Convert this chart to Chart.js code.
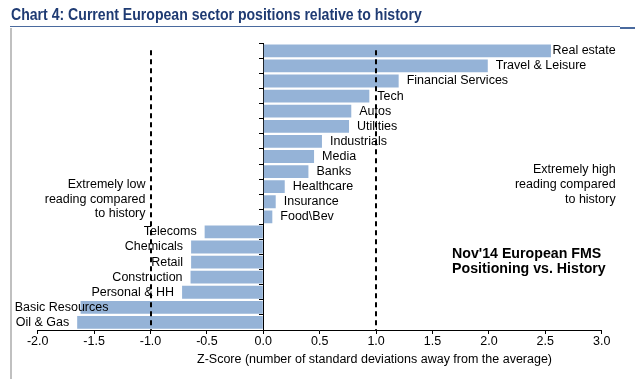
<!DOCTYPE html>
<html>
<head>
<meta charset="utf-8">
<script src="https://cdn.jsdelivr.net/npm/chart.js@4"></script>
<style>
  html, body { margin: 0; padding: 0; background: #fff; }
  #wrap { position: relative; width: 635px; height: 379px; overflow: hidden; }
  #title {
    position: absolute; left: 11px; top: 5px;
    font-family: "Liberation Sans Narrow", "Liberation Sans", Arial, sans-serif;
    font-weight: bold; font-size: 16px; color: #1F3B73; white-space: nowrap;
    line-height: 20px; transform: scaleX(0.88); transform-origin: 0 0;
  }
  #rule { position: absolute; left: 10px; top: 26px; width: 610px; height: 1px; background: #4A6A9E; }
  #rule2 { position: absolute; left: 620px; top: 27px; width: 15px; height: 2px; background: #4A6A9E; }
  #frame { position: absolute; left: 10px; top: 28px; width: 2px; height: 351px; background: #C0C0C0; }
  canvas { position: absolute; left: 0; top: 0; }
</style>
</head>
<body>
<div id="wrap">
  <canvas id="c" width="635" height="379"></canvas>
  <div id="title">Chart 4: Current European sector positions relative to history</div>
  <div id="rule"></div>
  <div id="rule2"></div>
  <div id="frame"></div>
</div>
<script>
const categories = ['Real estate','Travel & Leisure','Financial Services','Tech','Autos','Utilities','Industrials','Media','Banks','Healthcare','Insurance','Food\\Bev','Telecoms','Chemicals','Retail','Construction','Personal & HH','Basic Resources','Oil & Gas'];
const zScores = [2.55, 1.99, 1.20, 0.94, 0.78, 0.76, 0.52, 0.45, 0.40, 0.19, 0.11, 0.08, -0.52, -0.64, -0.64, -0.645, -0.72, -1.62, -1.65];
const xTicks = [-2.0, -1.5, -1.0, -0.5, 0.0, 0.5, 1.0, 1.5, 2.0, 2.5, 3.0];
const extremeLines = [-1, 1];
const xTitle = 'Z-Score (number of standard deviations away from the average)';
const highNote = ['Extremely high', 'reading compared', 'to history'];
const lowNote = ['Extremely low', 'reading compared', 'to history'];
const boxNote = ["Nov'14 European FMS", 'Positioning vs. History'];

const FONT = '"Liberation Sans", Arial, sans-serif';

const decor = {
  id: 'decor',
  afterDatasetsDraw(chart) {
    const ctx = chart.ctx;
    const xs = chart.scales.x;
    const area = chart.chartArea;
    ctx.save();
    // dashed reference lines
    ctx.strokeStyle = '#000';
    ctx.lineWidth = 2;
    ctx.setLineDash([5, 4]);
    extremeLines.forEach(v => {
      const px = Math.round(xs.getPixelForValue(v));
      ctx.beginPath();
      ctx.moveTo(px, area.top + 7);
      ctx.lineTo(px, area.bottom);
      ctx.stroke();
    });
    ctx.setLineDash([]);
    // category labels next to bars
    ctx.font = '12.5px ' + FONT;
    ctx.fillStyle = '#000';
    ctx.textBaseline = 'middle';
    const meta = chart.getDatasetMeta(0);
    categories.forEach((name, i) => {
      const v = zScores[i];
      const y = meta.data[i].y;
      const w = ctx.measureText(name).width;
      ctx.textAlign = 'left';
      if (v >= 0) {
        let x = xs.getPixelForValue(v) + 8;
        x = Math.min(x, area.right + 14 - w);
        ctx.fillText(name, x, y);
      } else {
        const xr = xs.getPixelForValue(v) - 8;
        const xl = Math.max(xr - w, area.left - 23);
        ctx.fillText(name, xl, y);
      }
    });
    // notes
    ctx.font = '12.5px ' + FONT;
    ctx.textAlign = 'right';
    highNote.forEach((t, i) => ctx.fillText(t, area.right + 14, 170 + i * 15));
    lowNote.forEach((t, i) => ctx.fillText(t, xs.getPixelForValue(-1) - 5, 185 + i * 14.5));
    ctx.font = 'bold 14.2px ' + FONT;
    ctx.textAlign = 'left';
    boxNote.forEach((t, i) => ctx.fillText(t, 452, 254 + i * 15.5));
    // axis title
    ctx.font = '12.5px ' + FONT;
    ctx.textAlign = 'left';
    ctx.fillText(xTitle, 197, 360, 366);
    ctx.restore();
  }
};

new Chart(document.getElementById('c'), {
  type: 'bar',
  data: {
    labels: categories,
    datasets: [{
      data: zScores,
      backgroundColor: '#95B3D7',
      borderWidth: 0,
      barPercentage: 0.85,
      categoryPercentage: 1.0
    }]
  },
  options: {
    indexAxis: 'y',
    responsive: false,
    animation: false,
    devicePixelRatio: 1,
    layout: { padding: { left: 37.7, right: 33.3, top: 43.3, bottom: 0 } },
    plugins: { legend: { display: false }, tooltip: { enabled: false } },
    scales: {
      x: {
        type: 'linear',
        min: -2, max: 3,
        afterBuildTicks: s => { s.ticks = xTicks.map(v => ({ value: v })); },
        afterFit: s => { s.height = 49; },
        grid: { drawOnChartArea: false, drawTicks: true, tickLength: 4, color: '#000', lineWidth: 1 },
        border: { display: true, color: '#000', width: 1 },
        ticks: {
          color: '#000',
          font: { family: FONT, size: 12.5 },
          padding: 0,
          maxRotation: 0,
          callback: v => Number(v).toFixed(1)
        }
      },
      y: {
        position: { x: 0 },
        grid: { offset: true, drawOnChartArea: false, drawTicks: true, tickLength: 4, color: '#000', lineWidth: 1 },
        border: { display: true, color: '#000', width: 1 },
        ticks: { display: false }
      }
    }
  },
  plugins: [decor]
});
</script>
</body>
</html>
